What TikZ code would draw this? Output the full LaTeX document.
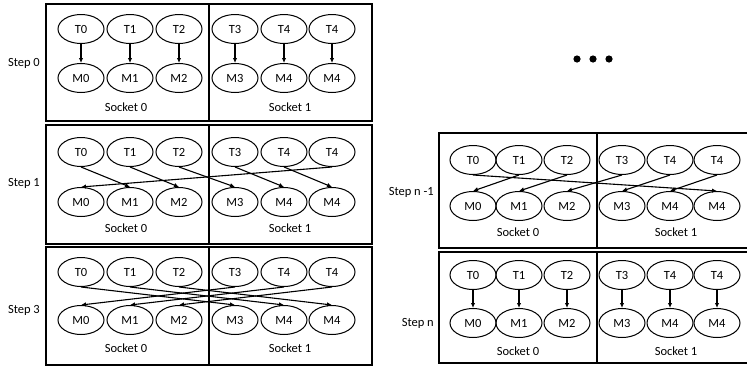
\documentclass[tikz,border=0pt]{standalone}
\usepackage{fontspec}
\setmainfont{Carlito}
\usetikzlibrary{shapes.geometric, arrows.meta}

\begin{document}
\begin{tikzpicture}[x=1pt, y=-1pt,
    font=\fontsize{12.5}{15}\selectfont,
    panel/.style={line width=1.2pt},
    proc/.style={draw, ellipse, line width=1pt, minimum width=46pt, minimum height=29pt, inner sep=0pt},
    edge/.style={-{Latex[length=5pt, width=4.5pt]}, line width=1.1pt},
    steplabel/.style={anchor=east, inner sep=0pt}]
    \useasboundingbox (0,0) rectangle (747,367);

    % Step 0
    \draw[panel] (46,4) rectangle (372,121);
    \draw[panel] (209,4) -- (209,121);
    \foreach \x/\n [count=\i from 0] in {81/0,130/1,179/2,235/3,284/4,332/4} {
        \node[proc] (a-t\i) at (\x,29) {T\n};
        \node[proc] (a-m\i) at (\x,78) {M\n};
    }
    \node (a-s0) at (126,107) {Socket 0};
    \node (a-s1) at (290,107) {Socket 1};
    \node[steplabel] (a-lbl) at (40,63) {Step 0};
    \foreach \i/\j in {0/0,1/1,2/2,3/3,4/4,5/5}
        \draw[edge] (a-t\i.south) -- (a-m\j.north);

    % Step 1
    \draw[panel] (46,125) rectangle (372,244);
    \draw[panel] (209,125) -- (209,244);
    \foreach \x/\n [count=\i from 0] in {81/0,130/1,179/2,235/3,284/4,332/4} {
        \node[proc] (b-t\i) at (\x,152) {T\n};
        \node[proc] (b-m\i) at (\x,202) {M\n};
    }
    \node (b-s0) at (126,228) {Socket 0};
    \node (b-s1) at (290,228) {Socket 1};
    \node[steplabel] (b-lbl) at (40,183) {Step 1};
    \foreach \i/\j in {0/1,1/2,2/3,3/4,4/5,5/0}
        \draw[edge] (b-t\i.south) -- (b-m\j.north);

    % Step 3
    \draw[panel] (46,247) rectangle (372,365);
    \draw[panel] (209,247) -- (209,365);
    \foreach \x/\n [count=\i from 0] in {81/0,130/1,179/2,235/3,284/4,332/4} {
        \node[proc] (c-t\i) at (\x,272) {T\n};
        \node[proc] (c-m\i) at (\x,320) {M\n};
    }
    \node (c-s0) at (126,348) {Socket 0};
    \node (c-s1) at (290,348) {Socket 1};
    \node[steplabel] (c-lbl) at (40,310) {Step 3};
    \foreach \i/\j in {0/3,1/4,2/5,3/0,4/1,5/2}
        \draw[edge] (c-t\i.south) -- (c-m\j.north);

    % Dots
    \fill (577,59) circle (3.6pt);
    \fill (593,59) circle (3.6pt);
    \fill (609,59) circle (3.6pt);

    % Step n -1
    \draw[panel] (439,133) rectangle (749,248);
    \draw[panel] (597,133) -- (597,248);
    \foreach \x/\n [count=\i from 0] in {473/0,519/1,567/2,622/3,670/4,717/4} {
        \node[proc] (d-t\i) at (\x,160) {T\n};
        \node[proc] (d-m\i) at (\x,206) {M\n};
    }
    \node (d-s0) at (518,232) {Socket 0};
    \node (d-s1) at (676,232) {Socket 1};
    \node[steplabel] (d-lbl) at (434,192) {Step n -1};
    \foreach \i/\j in {0/5,1/0,2/1,3/2,4/3,5/4}
        \draw[edge] (d-t\i.south) -- (d-m\j.north);

    % Step n
    \draw[panel] (439,252) rectangle (749,363);
    \draw[panel] (597,252) -- (597,363);
    \foreach \x/\n [count=\i from 0] in {473/0,519/1,567/2,622/3,670/4,717/4} {
        \node[proc] (e-t\i) at (\x,275) {T\n};
        \node[proc] (e-m\i) at (\x,323) {M\n};
    }
    \node (e-s0) at (518,351) {Socket 0};
    \node (e-s1) at (676,351) {Socket 1};
    \node[steplabel] (e-lbl) at (434,323) {Step n};
    \foreach \i/\j in {0/0,1/1,2/2,3/3,4/4,5/5}
        \draw[edge] (e-t\i.south) -- (e-m\j.north);
\end{tikzpicture}
\end{document}
